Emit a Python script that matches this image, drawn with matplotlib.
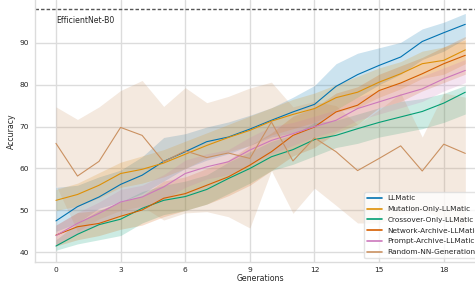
import numpy as np
import matplotlib
matplotlib.use("Agg")
import matplotlib.pyplot as plt
import seaborn as sns

gens = np.arange(20)

names = ["LLMatic", "Mutation-Only-LLMatic", "Crossover-Only-LLMatic",
         "Network-Archive-LLMatic", "Prompt-Archive-LLMatic", "Random-NN-Generation"]

llmatic = [47.5, 50.9, 53.2, 56.2, 58.4, 61.7, 64.0, 66.4, 67.5, 69.4,
           71.5, 73.5, 75.3, 79.6, 82.4, 84.6, 86.6, 90.3, 92.4, 94.4]
llmatic_lo = [45.0, 47.0, 50.5, 52.0, 54.0, 57.0, 60.0, 62.0, 63.5, 65.5,
              67.5, 68.5, 70.0, 74.0, 77.0, 80.0, 82.5, 86.0, 88.0, 91.0]
llmatic_hi = [55.5, 56.0, 58.0, 59.6, 62.8, 67.4, 68.3, 69.9, 71.1, 72.7,
              74.5, 77.0, 79.8, 85.0, 87.5, 88.8, 90.1, 93.3, 94.9, 97.0]

mutation = [52.4, 53.8, 56.0, 58.8, 59.8, 61.3, 63.4, 65.5, 67.4, 69.1,
            71.3, 72.9, 74.3, 76.9, 78.2, 80.6, 82.6, 85.0, 85.8, 88.3]
mutation_lo = [50.0, 51.0, 53.0, 55.5, 56.5, 58.0, 60.0, 62.5, 64.0, 65.5,
               68.0, 69.5, 71.0, 73.5, 74.5, 77.0, 79.0, 81.5, 82.5, 85.0]
mutation_hi = [55.0, 56.5, 59.0, 61.5, 63.0, 64.5, 66.5, 68.5, 70.5, 72.5,
               74.5, 76.5, 78.0, 80.0, 82.0, 84.0, 85.5, 88.0, 89.0, 90.7]

crossover = [41.5, 44.3, 46.6, 47.9, 50.5, 52.4, 53.3, 55.0, 57.6, 60.0,
             62.8, 64.5, 66.9, 67.9, 69.5, 71.0, 72.3, 73.6, 75.6, 78.2]
crossover_lo = [40.5, 42.0, 43.0, 44.0, 47.0, 49.0, 50.0, 51.5, 54.0, 56.5,
                59.5, 61.0, 63.0, 65.0, 66.0, 67.5, 68.5, 69.5, 71.0, 73.0]
crossover_hi = [43.0, 47.0, 50.0, 52.0, 54.5, 56.0, 57.0, 58.5, 61.5, 64.0,
                66.5, 68.0, 71.0, 71.5, 73.0, 74.5, 76.0, 76.7, 77.9, 79.8]

network = [44.1, 46.1, 46.9, 48.6, 50.1, 52.9, 54.0, 56.0, 58.0, 60.8,
           64.0, 67.9, 69.9, 73.5, 75.1, 78.6, 80.4, 82.6, 85.0, 87.0]
network_lo = [41.5, 43.0, 44.0, 45.5, 46.5, 48.5, 50.0, 51.5, 53.5, 56.0,
              59.5, 63.0, 65.0, 68.5, 70.5, 74.5, 76.0, 78.5, 80.5, 82.5]
network_hi = [46.5, 49.5, 50.0, 52.0, 53.5, 57.0, 58.0, 60.0, 62.0, 65.5,
              68.5, 72.5, 74.5, 78.0, 79.5, 82.5, 84.5, 86.5, 89.0, 91.5]

prompt = [44.0, 46.9, 49.3, 52.0, 53.2, 55.6, 58.8, 60.4, 61.6, 64.4,
          66.7, 68.3, 70.0, 71.5, 74.3, 75.9, 77.5, 79.0, 81.4, 83.4]
prompt_lo = [41.5, 44.5, 46.5, 49.0, 50.5, 52.5, 55.5, 57.5, 58.5, 61.0,
             63.5, 65.5, 67.5, 69.0, 71.5, 73.0, 74.5, 76.0, 78.5, 80.5]
prompt_hi = [46.5, 49.5, 52.0, 55.0, 56.0, 58.5, 62.0, 63.5, 64.5, 67.5,
             70.0, 71.0, 72.5, 74.0, 77.0, 78.5, 80.5, 82.0, 84.0, 86.0]

random_nn = [66.0, 58.2, 61.7, 69.8, 67.9, 61.6, 64.2, 62.6, 63.7, 62.4,
             71.1, 61.8, 67.3, 64.0, 59.5, 62.4, 65.4, 59.4, 65.8, 63.6]
random_lo = [56.0, 45.0, 48.0, 50.0, 51.0, 47.7, 49.4, 49.7, 48.5, 45.8,
             59.5, 49.3, 55.3, 51.2, 47.0, 47.0, 49.0, 50.0, 48.0, 46.0]
random_hi = [74.7, 71.7, 74.7, 78.6, 81.0, 74.8, 79.3, 75.7, 77.2, 79.2,
             80.6, 74.7, 76.0, 75.0, 70.5, 74.0, 78.0, 67.5, 78.0, 77.0]

efficientnet = 98.0

means = [llmatic, mutation, crossover, network, prompt, random_nn]
lows = [llmatic_lo, mutation_lo, crossover_lo, network_lo, prompt_lo, random_lo]
highs = [llmatic_hi, mutation_hi, crossover_hi, network_hi, prompt_hi, random_hi]

sns.set_theme(style="whitegrid")
colors = sns.color_palette("colorblind")[:6]

fig = plt.figure(figsize=(4.75, 2.88), dpi=100)
ax = fig.add_axes([0.0747, 0.0913, 0.948, 0.9087])

for name, m, lo, hi, c in zip(names, means, lows, highs, colors):
    ax.fill_between(gens, lo, hi, color=c, alpha=0.2, linewidth=0)
    ax.plot(gens, m, color=c, lw=0.8, label=name)

ax.axhline(efficientnet, color="#555555", ls=(0, (2.5, 1.5)), lw=1.0)
ax.text(0, 95.4, "EfficientNet-B0", fontsize=5.6, color="#262626", va="center")

ax.set_xlim(-0.95, 19.95)
ax.set_ylim(37.76, 100.2)
ax.set_xticks(np.arange(0, 19, 3))
ax.set_yticks([40, 50, 60, 70, 80, 90])
ax.tick_params(axis="x", labelsize=5.4, length=0, pad=3.5)
ax.tick_params(axis="y", labelsize=5.4, length=0, pad=4.5)
ax.grid(color="#dcdcdc", lw=1.0)
ax.set_xlabel("Generations", fontsize=5.6, labelpad=1)
ax.set_ylabel("Accuracy", fontsize=5.6, labelpad=3)
for s in ax.spines.values():
    s.set_linewidth(1.0)
    s.set_color("#dcdcdc")
ax.spines["top"].set_visible(False)

leg = ax.legend(loc="lower right", fontsize=5.3, frameon=True, labelspacing=0.62)
leg.get_frame().set_edgecolor("#dcdcdc")
for h in leg.get_lines():
    h.set_linewidth(1.2)

fig.savefig("out.png", dpi=100)
